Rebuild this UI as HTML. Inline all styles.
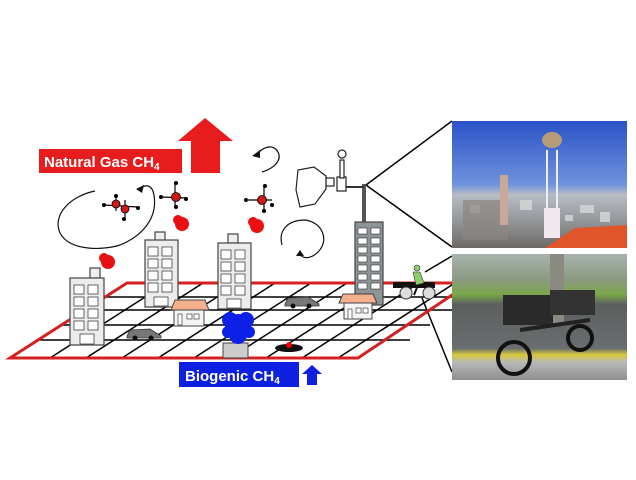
<!DOCTYPE html>
<html><head><style>
html,body{margin:0;padding:0;background:#fff;width:636px;height:480px;overflow:hidden}
svg{display:block}
</style></head><body>
<svg width="636" height="480" viewBox="0 0 636 480" xmlns="http://www.w3.org/2000/svg">
<defs>
<linearGradient id="sky" x1="0" y1="0" x2="0" y2="1">
<stop offset="0" stop-color="#2a52c8"/><stop offset="0.5" stop-color="#6f93dc"/><stop offset="0.58" stop-color="#b8bcc4"/><stop offset="0.75" stop-color="#9a9ea2"/><stop offset="1" stop-color="#6d6a66"/></linearGradient>
<linearGradient id="st" x1="0" y1="0" x2="0" y2="1">
<stop offset="0" stop-color="#a9b3ae"/><stop offset="0.2" stop-color="#8c9a82"/><stop offset="0.32" stop-color="#7aa64a"/><stop offset="0.4" stop-color="#5b5f5e"/><stop offset="0.75" stop-color="#6b6e70"/><stop offset="0.8" stop-color="#d8c83a"/><stop offset="0.86" stop-color="#b8b8b8"/><stop offset="1" stop-color="#8e8e8e"/></linearGradient>
</defs>
<g stroke="#000" stroke-width="1.5" fill="none">
<line x1="366" y1="185" x2="452" y2="121"/>
<line x1="366" y1="185" x2="452" y2="247"/>
<line x1="425" y1="272" x2="452" y2="256"/>
<line x1="422" y1="298" x2="452" y2="372"/>
</g>
<g stroke="#000" stroke-width="1.5">
<line x1="105" y1="297" x2="470" y2="297"/>
<line x1="84" y1="310" x2="452" y2="310"/>
<line x1="61" y1="325" x2="430" y2="325"/>
<line x1="38" y1="340" x2="410" y2="340"/>
<line x1="50" y1="358" x2="167" y2="283"/>
<line x1="86" y1="358" x2="203" y2="283"/>
<line x1="122" y1="358" x2="239" y2="283"/>
<line x1="158" y1="358" x2="275" y2="283"/>
<line x1="194" y1="358" x2="311" y2="283"/>
<line x1="230" y1="358" x2="347" y2="283"/>
<line x1="266" y1="358" x2="383" y2="283"/>
<line x1="302" y1="358" x2="419" y2="283"/>
<line x1="338" y1="358" x2="455" y2="283"/>
</g>
<polygon points="10,358 127,283 470,283 358,358" fill="none" stroke="#d42020" stroke-width="3"/>
<g stroke="#444" stroke-width="1.2">
<rect x="90" y="268" width="10" height="10" fill="#eee"/>
<rect x="70" y="278" width="34" height="67" fill="#ececec"/>
<rect x="155" y="232" width="10" height="9" fill="#eee"/>
<rect x="145" y="240" width="33" height="67" fill="#ececec"/>
<rect x="228" y="234" width="10" height="9" fill="#eee"/>
<rect x="218" y="243" width="33" height="66" fill="#ececec"/>
<rect x="355" y="222" width="28" height="83" fill="#8c9496"/>
</g>
<g fill="#fff" stroke="#444" stroke-width="0.8">
<rect x="74" y="285" width="10" height="9"/><rect x="88" y="285" width="10" height="9"/>
<rect x="74" y="297" width="10" height="9"/><rect x="88" y="297" width="10" height="9"/>
<rect x="74" y="309" width="10" height="9"/><rect x="88" y="309" width="10" height="9"/>
<rect x="74" y="321" width="10" height="9"/><rect x="88" y="321" width="10" height="9"/>
<rect x="80" y="334" width="14" height="10"/>
<rect x="148" y="247" width="10" height="9"/><rect x="162" y="247" width="10" height="9"/>
<rect x="148" y="259" width="10" height="9"/><rect x="162" y="259" width="10" height="9"/>
<rect x="148" y="271" width="10" height="9"/><rect x="162" y="271" width="10" height="9"/>
<rect x="148" y="283" width="10" height="9"/><rect x="162" y="283" width="10" height="9"/>
<rect x="154" y="297" width="14" height="9"/>
<rect x="221" y="250" width="10" height="9"/><rect x="235" y="250" width="10" height="9"/>
<rect x="221" y="262" width="10" height="9"/><rect x="235" y="262" width="10" height="9"/>
<rect x="221" y="274" width="10" height="9"/><rect x="235" y="274" width="10" height="9"/>
<rect x="221" y="286" width="10" height="9"/><rect x="235" y="286" width="10" height="9"/>
<rect x="227" y="299" width="14" height="9"/>
</g>
<g fill="#fff" stroke="#333" stroke-width="0.6">
<rect x="358" y="228" width="9" height="6"/><rect x="371" y="228" width="9" height="6"/>
<rect x="358" y="238" width="9" height="6"/><rect x="371" y="238" width="9" height="6"/>
<rect x="358" y="247" width="9" height="6"/><rect x="371" y="247" width="9" height="6"/>
<rect x="358" y="256" width="9" height="6"/><rect x="371" y="256" width="9" height="6"/>
<rect x="358" y="265" width="9" height="6"/><rect x="371" y="265" width="9" height="6"/>
<rect x="358" y="274" width="9" height="6"/><rect x="371" y="274" width="9" height="6"/>
<rect x="358" y="283" width="9" height="6"/><rect x="371" y="283" width="9" height="6"/>
</g>
<rect x="362" y="184" width="4" height="38" fill="#555"/>
<line x1="340" y1="187" x2="364" y2="187" stroke="#333" stroke-width="2"/>
<g fill="#fff" stroke="#222" stroke-width="1.2">
<rect x="337" y="177" width="9" height="14"/>
<rect x="340" y="160" width="4" height="18"/>
<circle cx="342" cy="154" r="4"/>
<rect x="326" y="178" width="8" height="8"/>
<path d="M326,176 L314,167 L298,170 L296,190 L300,207 L315,204 L326,189 Z"/>
</g>
<g stroke="#444" stroke-width="1">
<rect x="174" y="309" width="30" height="17" fill="#f4f4f4"/>
<path d="M171,310 L175,300 L205,300 L209,310 Z" fill="#f2b08c"/>
<rect x="344" y="302" width="28" height="17" fill="#f4f4f4"/>
<path d="M339,303 L343,294 L373,294 L377,303 Z" fill="#f2b08c"/>
</g>
<g fill="#fff" stroke="#444" stroke-width="0.7"><rect x="187" y="314" width="5" height="5"/><rect x="194" y="314" width="5" height="5"/><rect x="356" y="308" width="5" height="5"/><rect x="363" y="308" width="5" height="5"/><rect x="178" y="314" width="4" height="11"/><rect x="348" y="309" width="4" height="10"/></g>
<g fill="#777" stroke="#333" stroke-width="0.8">
<path d="M127,336 L130,330 L150,329 L158,334 L161,336 L161,338 L127,338 Z"/>
<path d="M285,304 L288,298 L308,297 L316,302 L319,304 L319,306 L285,306 Z"/>
</g>
<g fill="#111"><circle cx="135" cy="338" r="2.5"/><circle cx="151" cy="338" r="2.5"/><circle cx="293" cy="306" r="2.5"/><circle cx="309" cy="306" r="2.5"/></g>
<ellipse cx="289" cy="348" rx="14" ry="4" fill="#111"/>
<circle cx="289" cy="345" r="3" fill="#e00"/>
<rect x="223" y="343" width="25" height="15" fill="#ccc" stroke="#444"/>
<g fill="#0d20e8"><circle cx="238" cy="327" r="13"/><circle cx="230" cy="320" r="8"/><circle cx="246" cy="320" r="8"/><circle cx="238" cy="335" r="9"/><circle cx="228" cy="332" r="6"/><circle cx="249" cy="332" r="6"/></g>
<g fill="#e81010"><circle cx="108" cy="262" r="7"/><circle cx="182" cy="224" r="7"/><circle cx="257" cy="226" r="7"/><circle cx="104" cy="258" r="5"/><circle cx="178" cy="220" r="5"/><circle cx="253" cy="222" r="5"/></g>
<g stroke="#000" stroke-width="1.2">
<line x1="104" y1="205" x2="138" y2="207"/><line x1="116" y1="197" x2="116" y2="211"/><line x1="125" y1="200" x2="125" y2="218"/>
<line x1="161" y1="197" x2="186" y2="198"/><line x1="175" y1="184" x2="175" y2="207"/>
<line x1="246" y1="200" x2="272" y2="200"/><line x1="264" y1="187" x2="264" y2="210"/>
</g>
<g fill="#d01818" stroke="#000" stroke-width="0.8"><circle cx="116" cy="204" r="4"/><circle cx="125" cy="209" r="4"/><circle cx="176" cy="197" r="4.5"/><circle cx="262" cy="200" r="4.5"/></g>
<g fill="#000"><circle cx="104" cy="205" r="2"/><circle cx="138" cy="208" r="2"/><circle cx="116" cy="196" r="2"/><circle cx="124" cy="219" r="2"/><circle cx="161" cy="197" r="2"/><circle cx="186" cy="199" r="2"/><circle cx="176" cy="183" r="2"/><circle cx="176" cy="207" r="2"/><circle cx="246" cy="200" r="2"/><circle cx="272" cy="205" r="2"/><circle cx="265" cy="186" r="2"/><circle cx="264" cy="211" r="2"/></g>
<g fill="none" stroke="#111" stroke-width="1.2">
<path d="M95,191 C70,196 52,215 60,233 C70,252 105,250 120,245 C140,237 158,220 154,195 C152,184 145,184 140,189"/>
<path d="M262,172 C275,168 282,160 278,152 C274,145 266,145 258,153"/>
<path d="M282,245 C278,230 288,220 305,220 C322,222 330,240 318,252 C310,260 300,259 300,252"/>
</g>
<g fill="#111"><path d="M136,189 L144,185 L142,193 Z"/><path d="M252,156 L260,150 L260,158 Z"/><path d="M296,256 L300,250 L304,256 Z"/></g>
<rect x="393" y="282" width="42" height="6" fill="#111"/>
<circle cx="406" cy="293" r="6" fill="#ddd" stroke="#333"/><circle cx="429" cy="293" r="6" fill="#ddd" stroke="#333"/>
<circle cx="417" cy="268" r="3" fill="#8ccf6a" stroke="#333" stroke-width="0.6"/>
<path d="M413,272 L420,272 L424,283 L416,285 Z" fill="#8ccf6a" stroke="#333" stroke-width="0.6"/>
<line x1="418" y1="285" x2="414" y2="295" stroke="#111" stroke-width="2"/>
<rect x="39" y="149" width="143" height="24" fill="#e81c1c"/>
<text x="44" y="167" font-family="Liberation Sans, sans-serif" font-weight="bold" font-size="15" fill="#fff">Natural Gas CH<tspan font-size="10" dy="3">4</tspan></text>
<path d="M191,173 L191,141 L178,141 L205,118 L233,141 L220,141 L220,173 Z" fill="#e81c1c"/>
<rect x="179" y="362" width="120" height="25" fill="#0d1fe0"/>
<text x="185" y="381" font-family="Liberation Sans, sans-serif" font-weight="bold" font-size="15" fill="#fff">Biogenic CH<tspan font-size="10" dy="3">4</tspan></text>
<path d="M307,385 L307,374 L302,374 L312,365 L322,374 L317,374 L317,385 Z" fill="#0d1fe0"/>
<rect x="452" y="121" width="175" height="127" fill="url(#sky)"/>
<g fill="#d8d8d8" opacity="0.8"><rect x="470" y="205" width="10" height="8"/><rect x="520" y="200" width="12" height="10"/><rect x="580" y="205" width="14" height="8"/><rect x="600" y="212" width="10" height="10"/><rect x="565" y="215" width="8" height="6"/></g>
<rect x="463" y="200" width="45" height="40" fill="#8a8580" opacity="0.7"/>
<rect x="500" y="175" width="8" height="50" fill="#c9a89a"/>
<rect x="544" y="208" width="16" height="30" fill="#f0e8ec"/>
<line x1="547" y1="150" x2="547" y2="208" stroke="#eee" stroke-width="2"/><line x1="557" y1="150" x2="557" y2="208" stroke="#eee" stroke-width="2"/>
<ellipse cx="552" cy="140" rx="10" ry="8" fill="#b89c7a"/>
<path d="M545,248 L575,228 L627,225 L627,248 Z" fill="#e0552a"/>
<rect x="452" y="254" width="175" height="126" fill="url(#st)"/>
<rect x="550" y="254" width="14" height="70" fill="#8a8a80"/>
<rect x="503" y="295" width="50" height="30" fill="#2a2a2a"/>
<rect x="550" y="290" width="45" height="25" fill="#333"/>
<line x1="520" y1="330" x2="590" y2="320" stroke="#222" stroke-width="4"/>
<circle cx="514" cy="358" r="16" fill="none" stroke="#111" stroke-width="4"/>
<circle cx="580" cy="338" r="12" fill="none" stroke="#111" stroke-width="4"/>
</svg>
</body></html>
